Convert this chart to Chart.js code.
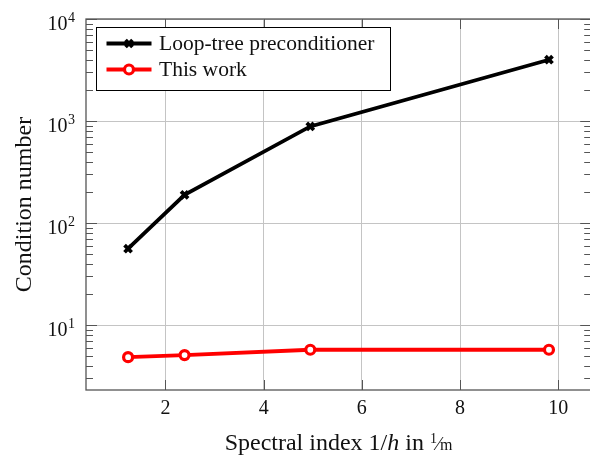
<!DOCTYPE html>
<html>
<head>
<meta charset="utf-8">
<script src="https://cdn.jsdelivr.net/npm/chart.js@4/dist/chart.umd.min.js"></script>
<style>
  html, body { margin: 0; padding: 0; background: #fff; overflow: hidden; }
  #wrap { width: 590px; height: 457px; overflow: hidden; }
</style>
</head>
<body>
<div id="wrap"><canvas id="myChart" width="600" height="457"></canvas></div>
<script>
// spectral index 1/h (1/m)
const xValues = [1.24, 2.39, 4.95, 9.81];
// condition numbers
const loopTree = [56, 189, 885, 3990];
const thisWork = [4.85, 5.08, 5.73, 5.73];

const seriesLabels = ['Loop-tree preconditioner', 'This work'];
const xTicks = [2, 4, 6, 8, 10];
const yMajorTicks = [10, 100, 1000, 10000];
const yMajorExp = ['1', '2', '3', '4'];

const FONT = '"Liberation Serif", "Times New Roman", serif';
const GRID = '#c4c4c4';
const FRAME = '#555555';

// minor ticks 2..9 of every decade (pgfplots style)
function yTickValues(min, max) {
  const out = [];
  for (let d = 0.1; d <= 10000; d *= 10) {
    for (let m = 1; m <= 9; m++) {
      const v = Math.round(m * d * 1000) / 1000;
      if (v >= min && v <= max) out.push(v);
    }
  }
  return out;
}
function isMajor(v) {
  return Math.abs(Math.log10(v) - Math.round(Math.log10(v))) < 1e-6;
}

// frame, inward ticks, tick labels, axis titles and legend
const decorations = {
  id: 'decorations',
  afterDraw(chart) {
    const ctx = chart.ctx;
    const area = chart.chartArea;
    const xs = chart.scales.x;
    const ys = chart.scales.y;
    ctx.save();

    // ticks inside on all four sides
    ctx.strokeStyle = FRAME;
    ctx.lineWidth = 1;
    ctx.beginPath();
    xTicks.forEach((v) => {
      const px = Math.round(xs.getPixelForValue(v)) + 0.5;
      ctx.moveTo(px, area.bottom); ctx.lineTo(px, area.bottom - 10);
      ctx.moveTo(px, area.top); ctx.lineTo(px, area.top + 10);
    });
    ys.ticks.forEach((t) => {
      const py = Math.round(ys.getPixelForValue(t.value)) + 0.5;
      const len = isMajor(t.value) ? 11 : 7;
      ctx.moveTo(area.left, py); ctx.lineTo(area.left + len, py);
      ctx.moveTo(area.right, py); ctx.lineTo(area.right - len, py);
    });
    ctx.stroke();

    // frame
    ctx.strokeStyle = FRAME;
    ctx.lineWidth = 1.3;
    ctx.strokeRect(area.left, area.top, area.right - area.left, area.bottom - area.top);

    ctx.fillStyle = '#111';
    // x tick labels
    ctx.font = '20px ' + FONT;
    ctx.textAlign = 'center';
    ctx.textBaseline = 'alphabetic';
    xTicks.forEach((v) => {
      ctx.fillText(String(v), xs.getPixelForValue(v), area.bottom + 24);
    });

    // y tick labels 10^n
    yMajorTicks.forEach((v, i) => {
      const py = ys.getPixelForValue(v);
      ctx.textAlign = 'right';
      ctx.font = '14px ' + FONT;
      const supW = ctx.measureText(yMajorExp[i]).width;
      ctx.fillText(yMajorExp[i], 75, py + 2.5);
      ctx.font = '20px ' + FONT;
      ctx.fillText('10', 75 - supW - 0.5, py + 11);
    });

    // x axis title: Spectral index 1/h in 1/m
    const parts = [
      {t: 'Spectral index 1/', f: '24px ' + FONT, dy: 0},
      {t: 'h', f: 'italic 24px ' + FONT, dy: 0},
      {t: ' in ', f: '24px ' + FONT, dy: 0},
      {t: '1', f: '14px ' + FONT, dy: -7},
      {t: '\u2044', f: '19px ' + FONT, dy: 0},
      {t: 'm', f: '16px ' + FONT, dy: 0},
    ];
    let total = 0;
    parts.forEach((p) => {
      ctx.font = p.f;
      p.w = ctx.measureText(p.t).width;
      total += p.w;
    });
    let cx = (area.left + area.right) / 2 - total / 2;
    ctx.textAlign = 'left';
    parts.forEach((p) => {
      ctx.font = p.f;
      ctx.fillText(p.t, cx, 449.5 + p.dy);
      cx += p.w;
    });

    // y axis title
    ctx.save();
    ctx.translate(30.5, (area.top + area.bottom) / 2);
    ctx.rotate(-Math.PI / 2);
    ctx.textAlign = 'center';
    ctx.font = '24px ' + FONT;
    ctx.fillText('Condition number', 0, 0);
    ctx.restore();

    // legend
    const lx = 96.5; const ly = 27.5; const lw = 294; const lh = 63;
    ctx.fillStyle = '#fff';
    ctx.fillRect(lx, ly, lw, lh);
    ctx.strokeStyle = '#000';
    ctx.lineWidth = 1;
    ctx.strokeRect(lx, ly, lw, lh);
    chart.data.datasets.forEach((ds, i) => {
      const cy = 43.5 + i * 26;
      ctx.strokeStyle = ds.borderColor;
      ctx.lineWidth = ds.borderWidth;
      ctx.beginPath();
      ctx.moveTo(106.5, cy); ctx.lineTo(151.5, cy);
      ctx.stroke();
      const mx = 129;
      ctx.lineWidth = ds.pointBorderWidth;
      ctx.strokeStyle = ds.pointBorderColor;
      ctx.beginPath();
      if (ds.pointStyle === 'crossRot') {
        const r = 3.5;
        ctx.moveTo(mx - r, cy - r); ctx.lineTo(mx + r, cy + r);
        ctx.moveTo(mx - r, cy + r); ctx.lineTo(mx + r, cy - r);
        ctx.stroke();
      } else {
        ctx.fillStyle = '#fff';
        ctx.arc(mx, cy, ds.pointRadius, 0, Math.PI * 2);
        ctx.fill();
        ctx.stroke();
      }
      ctx.fillStyle = '#111';
      ctx.font = '21.5px ' + FONT;
      ctx.textAlign = 'left';
      ctx.fillText(ds.label, 159, cy + 6.5);
    });

    ctx.restore();
  },
};

new Chart(document.getElementById('myChart'), {
  type: 'line',
  data: {
    datasets: [{
      label: seriesLabels[0],
      data: xValues.map((x, i) => ({x: x, y: loopTree[i]})),
      borderColor: '#000',
      borderWidth: 3.8,
      pointStyle: 'crossRot',
      pointRadius: 5,
      pointBorderWidth: 3.8,
      pointBorderColor: '#000',
      pointBackgroundColor: '#000',
      tension: 0,
    }, {
      label: seriesLabels[1],
      data: xValues.map((x, i) => ({x: x, y: thisWork[i]})),
      borderColor: '#ff0000',
      borderWidth: 3.8,
      pointStyle: 'circle',
      pointRadius: 4.5,
      pointBorderWidth: 3.2,
      pointBorderColor: '#ff0000',
      pointBackgroundColor: '#fff',
      tension: 0,
    }],
  },
  options: {
    responsive: false,
    animation: false,
    events: [],
    layout: {padding: {left: 0, top: 19, right: 7, bottom: 0}},
    plugins: {
      legend: {display: false},
      tooltip: {enabled: false},
    },
    scales: {
      x: {
        type: 'linear',
        min: 0.383,
        max: 10.67,
        afterBuildTicks: (scale) => {
          scale.ticks = xTicks.map((v) => ({value: v}));
        },
        afterFit: (scale) => { scale.height = 67; },
        ticks: {display: false},
        border: {display: false},
        grid: {color: GRID, lineWidth: 1, drawTicks: false},
      },
      y: {
        type: 'logarithmic',
        min: 2.31,
        max: 10000,
        afterBuildTicks: (scale) => {
          scale.ticks = yTickValues(scale.min, scale.max).map((v) => ({value: v}));
        },
        afterFit: (scale) => { scale.width = 86; },
        ticks: {display: false},
        border: {display: false},
        grid: {
          color: (c) => (c.tick && isMajor(c.tick.value) ? GRID : 'rgba(0,0,0,0)'),
          lineWidth: 1,
          drawTicks: false,
        },
      },
    },
  },
  plugins: [decorations],
});
</script>
</body>
</html>
